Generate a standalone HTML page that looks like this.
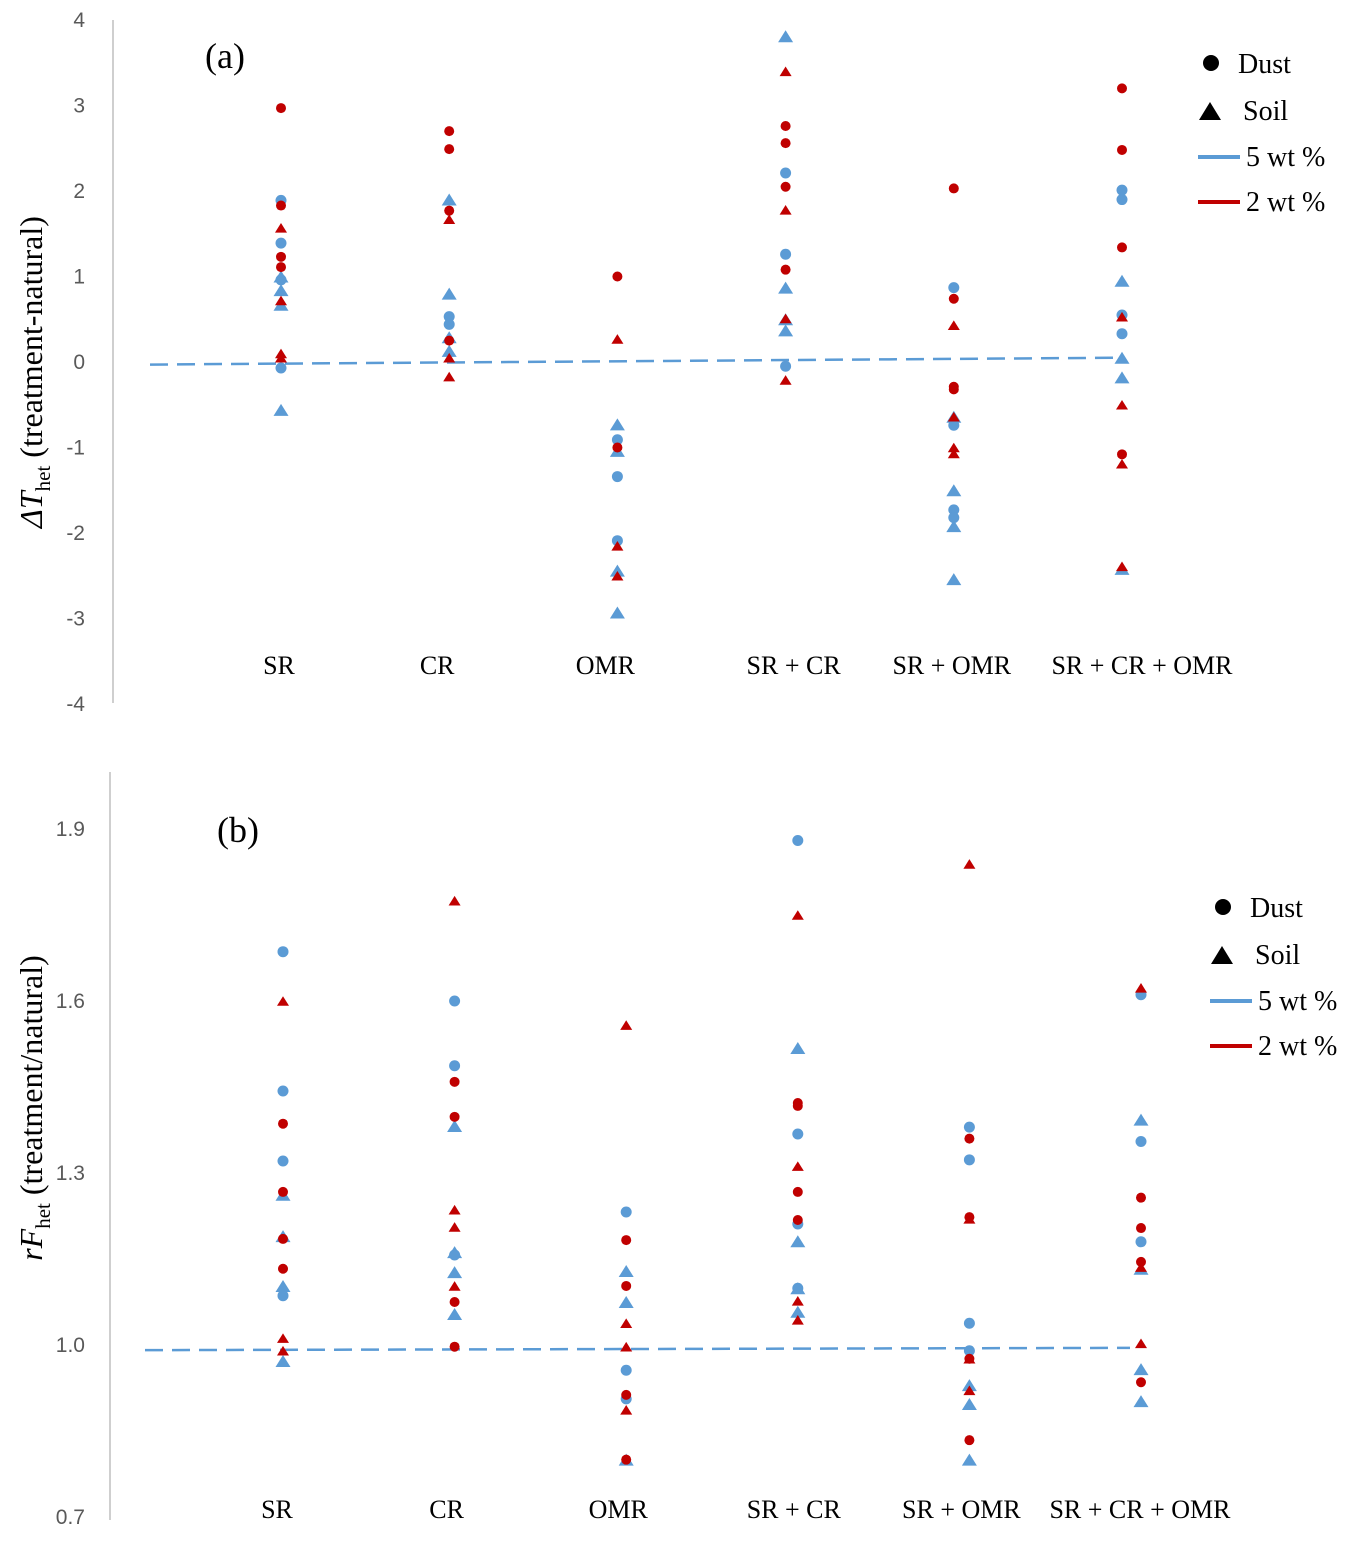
<!DOCTYPE html>
<html><head><meta charset="utf-8"><style>
body{margin:0;background:#fff;}
svg text{font-family:"Liberation Serif",serif;}
.tick{font-family:"Liberation Sans",sans-serif;font-size:21px;fill:#595959;}
</style></head><body>
<svg id="chart" width="1352" height="1538" xmlns="http://www.w3.org/2000/svg">
</svg>
<script>
const categories = ["SR","CR","OMR","SR + CR","SR + OMR","SR + CR + OMR"];
// Panel (a): ΔT_het
const aTicks = [4,3,2,1,0,-1,-2,-3,-4];
const aDust5 = [[1.89,1.39,0.96,-0.07],[0.53,0.44],[-0.91,-1.34,-2.09],[2.21,1.26,-0.05],[0.87,-0.74,-1.73,-1.82],[2.01,1.9,0.55,0.33]];
const aDust2 = [[2.97,1.83,1.23,1.11],[2.7,2.49,1.77,0.25],[1.0,-1.0],[2.76,2.56,2.05,1.08],[2.03,0.74,-0.29,-0.32],[3.2,2.48,1.34,-1.08]];
const aSoil5 = [[1.0,0.84,0.67,-0.56],[1.9,0.8,0.29,0.13],[-0.73,-1.04,-2.44,-2.93],[3.81,0.87,0.5,0.37],[-0.64,-1.5,-1.92,-2.54],[0.95,0.05,-0.18,-2.42]];
const aSoil2 = [[1.57,0.72,0.1,0.05],[1.67,0.05,-0.17],[0.27,-2.15,-2.5],[3.4,1.78,0.51,-0.21],[0.43,-0.64,-1.0,-1.07],[0.53,-0.5,-1.19,-2.39]];
const aTrend = [-0.03,0.05];
// Panel (b): rF_het
const bTicks = [1.9,1.6,1.3,1.0,0.7];
const bDust5 = [[1.686,1.443,1.321,1.086],[1.6,1.487,1.157],[1.232,0.956,0.906],[1.88,1.368,1.211,1.099],[1.38,1.323,1.038,0.99],[1.611,1.355,1.18]];
const bDust2 = [[1.386,1.267,1.185,1.133],[1.459,1.398,1.075,0.997],[1.183,1.103,0.913,0.8],[1.422,1.417,1.267,1.218],[1.36,1.223,0.976,0.834],[1.257,1.204,1.145,0.935]];
const bSoil5 = [[1.262,1.19,1.103,0.972],[1.382,1.162,1.127,1.054],[1.129,1.075,0.8],[1.518,1.181,1.099,1.058],[0.93,0.897,0.8],[1.393,1.133,0.958,0.902]];
const bSoil2 = [[1.6,1.012,0.99],[1.775,1.236,1.206,1.103],[1.558,1.038,0.997,0.887],[1.75,1.312,1.077,1.044],[1.839,1.22,0.976,0.921],[1.623,1.136,1.003]];
const bTrend = [0.991,0.995];

const NS="http://www.w3.org/2000/svg";
const svg=document.getElementById('chart');
const BLUE="#5B9BD5", RED="#C00000";
function el(tag,attrs,parent){const e=document.createElementNS(NS,tag);for(const k in attrs)e.setAttribute(k,attrs[k]);(parent||svg).appendChild(e);return e;}

function panel(cfg){
  const g=el('g',{});
  
  
  const y=v=>cfg.y0+(v-cfg.v0)*(cfg.y1-cfg.y0)/(cfg.v1-cfg.v0);
  const x=i=>cfg.xs[0]+i*(cfg.xs[1]-cfg.xs[0])/(categories.length-1);
  const ax=el('line',{x1:cfg.axX,x2:cfg.axX,y1:cfg.axTop,y2:cfg.axBot,stroke:"#bfbfbf","stroke-width":1.5},g);
  
  
  cfg.ticks.forEach(t=>{
    const tx=el('text',{x:85,y:y(t)+7,"text-anchor":"end",class:"tick"},g);
    tx.textContent=cfg.fmt(t);
    
    
  });
  categories.forEach((c,i)=>{
    const t=el('text',{x:x(i)+cfg.labOff[i],y:cfg.labY,"text-anchor":"middle","font-size":26},g);
    t.textContent=c;
    
    
  });
  const tr=el('line',{x1:cfg.trX[0],x2:cfg.trX[1],y1:y(cfg.trend[0]),y2:y(cfg.trend[1]),stroke:BLUE,"stroke-width":2.5,"stroke-dasharray":"18,9"},g);
  
  
  function dots(arr,color,r,nm){arr.forEach((vals,i)=>vals.forEach(v=>{
    const c=el('circle',{cx:x(i),cy:y(v),r:r,fill:color},g);
    
    
  }));}
  function tris(arr,color,s,nm){arr.forEach((vals,i)=>vals.forEach(v=>{
    const cx=x(i),cy=y(v);
    const p=el('polygon',{points:`${cx-s},${cy+s*0.8} ${cx+s},${cy+s*0.8} ${cx},${cy-s*0.8}`,fill:color},g);
    
    
  }));}
  tris(cfg.soil5,BLUE,7.5,'soil-5wt-point');
  dots(cfg.dust5,BLUE,5.5,'dust-5wt-point');
  tris(cfg.soil2,RED,6,'soil-2wt-point');
  dots(cfg.dust2,RED,5,'dust-2wt-point');
  const ttl=el('text',{x:cfg.tag[0],y:cfg.tag[1],"font-size":36},g);
  ttl.textContent=cfg.tagText;
  
  
  const L=cfg.leg;
  const lg=el('g',{},g);
  
  
  el('circle',{cx:L[0]+13,cy:L[1],r:8,fill:"#000"},lg);
  el('polygon',{points:`${L[0]+1},${L[1]+57} ${L[0]+23},${L[1]+57} ${L[0]+12},${L[1]+39}`,fill:"#000"},lg);
  el('line',{x1:L[0],x2:L[0]+42,y1:L[1]+94,y2:L[1]+94,stroke:BLUE,"stroke-width":4},lg);
  el('line',{x1:L[0],x2:L[0]+42,y1:L[1]+139,y2:L[1]+139,stroke:RED,"stroke-width":4},lg);
  [["Dust",40,10],["Soil",45,57],["5 wt %",48,103],["2 wt %",48,148]].forEach(a=>{
    const t=el('text',{x:L[0]+a[1],y:L[1]+a[2],"font-size":28},lg);
    t.textContent=a[0];
    
    
  });
  const yt=el('text',{transform:`translate(${cfg.yt[0]},${cfg.yt[1]}) rotate(-90)`,"text-anchor":"middle","font-size":32},g);
  yt.innerHTML=cfg.ytHTML;
  
  
}

panel({name:'panel-a',v0:0,v1:4,y0:362,y1:20,ticks:aTicks,fmt:t=>String(t),axX:113,axTop:20,axBot:703,
  xs:[281,1122],labY:674,labOff:[-2,-12,-12,8,-2,20],trX:[150,1120],trend:aTrend,
  dust5:aDust5,dust2:aDust2,soil5:aSoil5,soil2:aSoil2,tag:[205,68],tagText:"(a)",leg:[1198,63],
  yt:[42,372],ytHTML:'<tspan font-style="italic">ΔT</tspan><tspan font-size="21" dy="8">het</tspan><tspan dy="-8"> (treatment-natural)</tspan>'});
panel({name:'panel-b',v0:1.0,v1:1.3,y0:1345,y1:1173,ticks:bTicks,fmt:t=>t.toFixed(1),axX:110,axTop:772,axBot:1520,
  xs:[283,1141],labY:1518,labOff:[-6,-8,-8,-4,-8,-1],trX:[145,1130],trend:bTrend,
  dust5:bDust5,dust2:bDust2,soil5:bSoil5,soil2:bSoil2,tag:[217,842],tagText:"(b)",leg:[1210,907],
  yt:[42,1108],ytHTML:'<tspan font-style="italic">rF</tspan><tspan font-size="21" dy="8">het</tspan><tspan dy="-8"> (treatment/natural)</tspan>'});
</script>
</body></html>
